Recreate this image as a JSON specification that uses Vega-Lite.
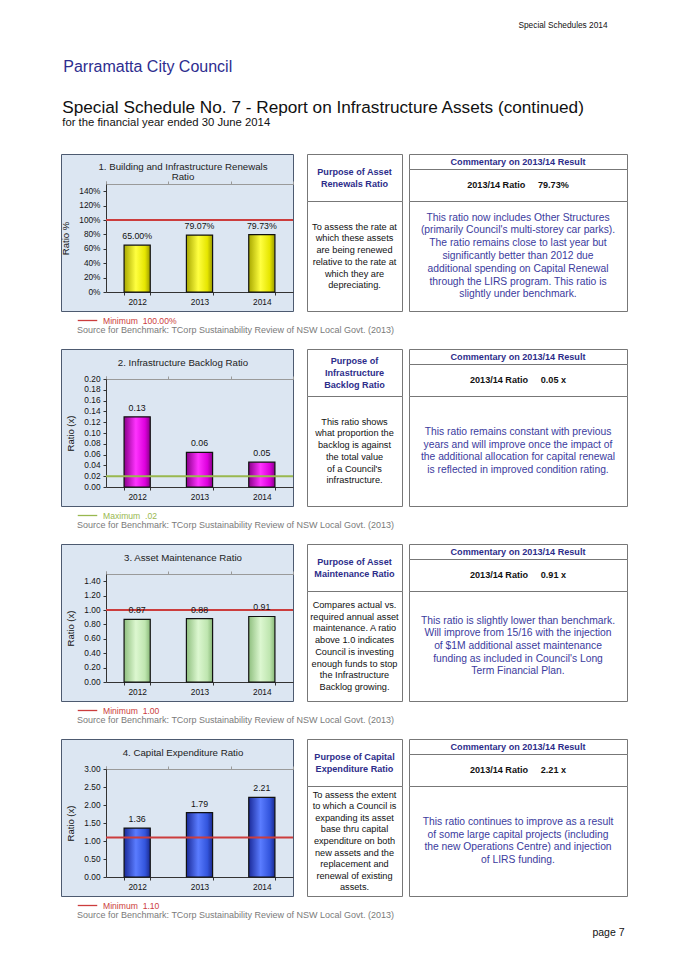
{
  "$schema": "https://vega.github.io/schema/vega-lite/v6.json",
  "background": "white",
  "padding": {"left": 60, "top": 20, "right": 0, "bottom": 0},
  "config": {
    "font": "Liberation Sans",
    "view": {"stroke": null},
    "axis": {"labelFont": "Liberation Sans", "labelFontSize": 8.3, "labelColor": "#111", "domainColor": "#333", "tickColor": "#333", "grid": false, "titleFont": "Liberation Sans", "titleFontWeight": "normal", "titleFontSize": 9.5, "titleColor": "#111", "labelOverlap": false},
    "axisQuantitative": {"labelOverlap": false},
    "axisY": {"offset": -45, "tickSize": 3, "labelPadding": 3, "titlePadding": 8, "labelOverlap": false},
    "axisX": {"offset": -19, "labelAngle": 0, "tickBand": "extent", "tickSize": 3, "labelPadding": 2},
    "legend": {"orient": "none", "legendX": 16, "legendY": 156, "titleOrient": "bottom", "titleAnchor": "start", "titleFontSize": 9, "titleFontWeight": "normal", "titleColor": "#7a7a7a", "titleLimit": 700, "titlePadding": 1, "labelFontSize": 8.6, "symbolType": "stroke", "symbolSize": 380, "symbolStrokeWidth": 1.3, "labelOffset": 5, "padding": 0, "titleFont": "Liberation Sans", "labelFont": "Liberation Sans"},
    "title": {"font": "Liberation Sans", "fontWeight": "normal", "color": "#111"}
  },
  "datasets": {
    "renewals": [{"year": "2012", "value": 0.65}, {"year": "2013", "value": 0.7907}, {"year": "2014", "value": 0.7973}],
    "renewals_bench": [{"value": 1.0, "label": "Minimum\u00a0\u00a0100.00%"}],
    "backlog": [{"year": "2012", "value": 0.13}, {"year": "2013", "value": 0.064}, {"year": "2014", "value": 0.046}],
    "backlog_bench": [{"value": 0.02, "label": "Maximum\u00a0\u00a0.02"}],
    "maintenance": [{"year": "2012", "value": 0.87}, {"year": "2013", "value": 0.88}, {"year": "2014", "value": 0.91}],
    "maintenance_bench": [{"value": 1.0, "label": "Minimum\u00a0\u00a01.00"}],
    "capex": [{"year": "2012", "value": 1.36}, {"year": "2013", "value": 1.79}, {"year": "2014", "value": 2.21}],
    "capex_bench": [{"value": 1.1, "label": "Minimum\u00a0\u00a01.10"}]
  },
  "title": {"text": "Special Schedules 2014", "anchor": "end", "fontSize": 8.3, "dx": -20, "offset": 30},
  "vconcat": [
    {
      "title": {"text": "Parramatta City Council", "anchor": "start", "fontSize": 16, "color": "#2d2d8f", "dx": 3, "offset": 24},
      "vconcat": [
        {
          "title": {"text": "Special Schedule No. 7 - Report on Infrastructure Assets (continued)", "subtitle": "for the financial year ended 30 June 2014", "anchor": "start", "fontSize": 17.2, "color": "#111", "subtitleFont": "Liberation Sans", "subtitleFontSize": 11.3, "subtitleColor": "#111", "subtitlePadding": 1, "dx": 2, "offset": 25},
          "vconcat": [
            {
              "title": {"text": "page 7", "orient": "bottom", "anchor": "end", "fontSize": 10.5, "dx": -3, "offset": 8},
              "spacing": 13,
              "resolve": {"scale": {"color": "independent"}, "legend": {"color": "independent"}},
              "vconcat": [
                {
                  "bounds": "flush", "spacing": 14,
                  "hconcat": [
                    {
                      "width": 232, "height": 157,
                      "view": {"fill": "#dce6f2", "stroke": "#4d5a70", "strokeWidth": 1},
                      "title": {"text": ["1. Building and Infrastructure Renewals", "Ratio"], "anchor": "middle", "offset": -28, "fontSize": 9.7, "lineHeight": 10, "color": "#222", "dx": 6},
                      "data": {"name": "renewals"},
                      "encoding": {"y": {"field": "value", "type": "quantitative", "scale": {"domain": [0, 1.5], "range": [138, 30], "nice": false}, "axis": {"title": "Ratio %", "values": [0, 0.2, 0.4, 0.6, 0.8, 1, 1.2, 1.4], "format": ".0%", "labelOverlap": false}}},
                      "layer": [
                        {"mark": {"type": "bar", "fill": {"gradient": "linear", "x1": 0, "x2": 1, "y1": 0, "y2": 0, "stops": [{"offset": 0, "color": "#a8a800"}, {"offset": 0.45, "color": "#ffff40"}, {"offset": 0.8, "color": "#e6e600"}, {"offset": 1, "color": "#9a9a00"}]}, "stroke": "#111", "strokeWidth": 1.2},
                         "encoding": {
                           "x": {"field": "year", "type": "ordinal", "scale": {"range": [45, 232], "paddingInner": 0.58, "paddingOuter": 0.29}, "axis": {"title": null}}}},
                        {"data": {"name": "renewals_bench"}, "mark": {"type": "rule", "strokeWidth": 2},
                         "encoding": {
                           "x": {"datum": 0, "type": "quantitative", "scale": {"domain": [0, 1], "range": [45, 232]}, "axis": {"orient": "top", "offset": -30, "labels": false, "title": null, "values": [0, 0.3333, 0.6667, 1], "domainColor": "#9a9a9a", "tickColor": "#9a9a9a", "tickSize": 3}},
                           "x2": {"datum": 1},
                           "color": {"field": "label", "type": "nominal", "scale": {"range": ["#cc3d3d"]}, "legend": {"title": "Source for Benchmark: TCorp Sustainability Review of NSW Local Govt. (2013)", "labelColor": "#cc3d3d"}}}},
                        {"mark": {"type": "text", "baseline": "bottom", "dy": -4, "fontSize": 8.8, "color": "#111"},
                         "encoding": {
                           "x": {"field": "year", "type": "ordinal", "scale": {"range": [45, 232], "paddingInner": 0.58, "paddingOuter": 0.29}, "axis": null},
                           "text": {"field": "value", "format": ".2%"}}}
                      ],
                      "resolve": {"scale": {"x": "independent"}}
                    },
                    {
                      "spacing": 5,
                      "hconcat": [
                        {"spacing": 0, "bounds": "flush", "vconcat": [
                          {"width": 95, "height": 47, "view": {"stroke": "#777", "fill": "white"}, "data": {"values": [{"text": "Purpose of Asset\nRenewals Ratio"}]}, "mark": {"type": "text", "lineBreak": "\n", "fontSize": 9.1, "fontWeight": "bold", "color": "#2d2d8a", "baseline": "middle", "lineHeight": 12, "dy": -6}, "encoding": {"text": {"field": "text"}}},
                          {"width": 95, "height": 110, "view": {"stroke": "#777", "fill": "white"}, "data": {"values": [{"text": "To assess the rate at\nwhich these assets\nare being renewed\nrelative to the rate at\nwhich they are\ndepreciating."}]}, "mark": {"type": "text", "lineBreak": "\n", "fontSize": 9.2, "color": "#111", "baseline": "middle", "lineHeight": 11.7, "dy": -29.25}, "encoding": {"text": {"field": "text"}}}
                        ]},
                        {"spacing": 0, "bounds": "flush", "vconcat": [
                          {"width": 218, "height": 15, "view": {"stroke": "#777", "fill": "white"}, "data": {"values": [{"text": "Commentary on 2013/14 Result"}]}, "mark": {"type": "text", "fontSize": 9.1, "fontWeight": "bold", "color": "#2d2d8a", "baseline": "middle"}, "encoding": {"text": {"field": "text"}}},
                          {"width": 218, "height": 32, "view": {"stroke": "#777", "fill": "white"}, "data": {"values": [{"text": "2013/14 Ratio\u00a0\u00a0\u00a0\u00a0\u00a079.73%"}]}, "mark": {"type": "text", "fontSize": 9.1, "fontWeight": "bold", "color": "#111", "baseline": "middle"}, "encoding": {"text": {"field": "text"}}},
                          {"width": 218, "height": 110, "view": {"stroke": "#777", "fill": "white"}, "data": {"values": [{"text": "This ratio now includes Other Structures\n(primarily Council's multi-storey car parks).\nThe ratio remains close to last year but\nsignificantly better than 2012 due\nadditional spending on Capital Renewal\nthrough the LIRS program. This ratio is\nslightly under benchmark."}]}, "mark": {"type": "text", "lineBreak": "\n", "fontSize": 10.3, "color": "#3b3b9e", "baseline": "middle", "lineHeight": 12.8, "dy": -38.4}, "encoding": {"text": {"field": "text"}}}
                        ]}
                      ]
                    }
                  ]
                },
                {
                  "bounds": "flush", "spacing": 14,
                  "hconcat": [
                    {
                      "width": 232, "height": 157,
                      "view": {"fill": "#dce6f2", "stroke": "#4d5a70", "strokeWidth": 1},
                      "title": {"text": "2. Infrastructure Backlog Ratio", "anchor": "middle", "offset": -19, "fontSize": 9.7, "lineHeight": 10, "color": "#222", "dx": 6},
                      "data": {"name": "backlog"},
                      "encoding": {"y": {"field": "value", "type": "quantitative", "scale": {"domain": [0, 0.2], "range": [138, 30], "nice": false}, "axis": {"title": "Ratio (x)", "values": [0, 0.02, 0.04, 0.06, 0.08, 0.1, 0.12, 0.14, 0.16, 0.18, 0.2], "format": ".2f", "labelOverlap": false}}},
                      "layer": [
                        {"mark": {"type": "bar", "fill": {"gradient": "linear", "x1": 0, "x2": 1, "y1": 0, "y2": 0, "stops": [{"offset": 0, "color": "#8a008a"}, {"offset": 0.45, "color": "#ff33ff"}, {"offset": 0.8, "color": "#dd00dd"}, {"offset": 1, "color": "#880088"}]}, "stroke": "#111", "strokeWidth": 1.2},
                         "encoding": {
                           "x": {"field": "year", "type": "ordinal", "scale": {"range": [45, 232], "paddingInner": 0.58, "paddingOuter": 0.29}, "axis": {"title": null}}}},
                        {"data": {"name": "backlog_bench"}, "mark": {"type": "rule", "strokeWidth": 2},
                         "encoding": {
                           "x": {"datum": 0, "type": "quantitative", "scale": {"domain": [0, 1], "range": [45, 232]}, "axis": {"orient": "top", "offset": -30, "labels": false, "title": null, "values": [0, 0.3333, 0.6667, 1], "domainColor": "#9a9a9a", "tickColor": "#9a9a9a", "tickSize": 3}},
                           "x2": {"datum": 1},
                           "color": {"field": "label", "type": "nominal", "scale": {"range": ["#99b84f"]}, "legend": {"title": "Source for Benchmark: TCorp Sustainability Review of NSW Local Govt. (2013)", "labelColor": "#99b84f"}}}},
                        {"mark": {"type": "text", "baseline": "bottom", "dy": -4, "fontSize": 8.8, "color": "#111"},
                         "encoding": {
                           "x": {"field": "year", "type": "ordinal", "scale": {"range": [45, 232], "paddingInner": 0.58, "paddingOuter": 0.29}, "axis": null},
                           "text": {"field": "value", "format": ".2f"}}}
                      ],
                      "resolve": {"scale": {"x": "independent"}}
                    },
                    {
                      "spacing": 5,
                      "hconcat": [
                        {"spacing": 0, "bounds": "flush", "vconcat": [
                          {"width": 95, "height": 47, "view": {"stroke": "#777", "fill": "white"}, "data": {"values": [{"text": "Purpose of\nInfrastructure\nBacklog Ratio"}]}, "mark": {"type": "text", "lineBreak": "\n", "fontSize": 9.1, "fontWeight": "bold", "color": "#2d2d8a", "baseline": "middle", "lineHeight": 12, "dy": -12}, "encoding": {"text": {"field": "text"}}},
                          {"width": 95, "height": 110, "view": {"stroke": "#777", "fill": "white"}, "data": {"values": [{"text": "This ratio shows\nwhat proportion the\nbacklog is against\nthe total value\nof a Council's\ninfrastructure."}]}, "mark": {"type": "text", "lineBreak": "\n", "fontSize": 9.2, "color": "#111", "baseline": "middle", "lineHeight": 11.7, "dy": -29.25}, "encoding": {"text": {"field": "text"}}}
                        ]},
                        {"spacing": 0, "bounds": "flush", "vconcat": [
                          {"width": 218, "height": 15, "view": {"stroke": "#777", "fill": "white"}, "data": {"values": [{"text": "Commentary on 2013/14 Result"}]}, "mark": {"type": "text", "fontSize": 9.1, "fontWeight": "bold", "color": "#2d2d8a", "baseline": "middle"}, "encoding": {"text": {"field": "text"}}},
                          {"width": 218, "height": 32, "view": {"stroke": "#777", "fill": "white"}, "data": {"values": [{"text": "2013/14 Ratio\u00a0\u00a0\u00a0\u00a0\u00a00.05 x"}]}, "mark": {"type": "text", "fontSize": 9.1, "fontWeight": "bold", "color": "#111", "baseline": "middle"}, "encoding": {"text": {"field": "text"}}},
                          {"width": 218, "height": 110, "view": {"stroke": "#777", "fill": "white"}, "data": {"values": [{"text": "This ratio remains constant with previous\nyears and will improve once the impact of\nthe additional allocation for capital renewal\nis reflected in improved condition rating."}]}, "mark": {"type": "text", "lineBreak": "\n", "fontSize": 10.3, "color": "#3b3b9e", "baseline": "middle", "lineHeight": 12.6, "dy": -18.9}, "encoding": {"text": {"field": "text"}}}
                        ]}
                      ]
                    }
                  ]
                },
                {
                  "bounds": "flush", "spacing": 14,
                  "hconcat": [
                    {
                      "width": 232, "height": 157,
                      "view": {"fill": "#dce6f2", "stroke": "#4d5a70", "strokeWidth": 1},
                      "title": {"text": "3. Asset Maintenance Ratio", "anchor": "middle", "offset": -19, "fontSize": 9.7, "lineHeight": 10, "color": "#222", "dx": 6},
                      "data": {"name": "maintenance"},
                      "encoding": {"y": {"field": "value", "type": "quantitative", "scale": {"domain": [0, 1.5], "range": [138, 30], "nice": false}, "axis": {"title": "Ratio (x)", "values": [0, 0.2, 0.4, 0.6, 0.8, 1, 1.2, 1.4], "format": ".2f", "labelOverlap": false}}},
                      "layer": [
                        {"mark": {"type": "bar", "fill": {"gradient": "linear", "x1": 0, "x2": 1, "y1": 0, "y2": 0, "stops": [{"offset": 0, "color": "#8fbf7f"}, {"offset": 0.45, "color": "#dcf7d0"}, {"offset": 0.8, "color": "#bfe6b0"}, {"offset": 1, "color": "#88b878"}]}, "stroke": "#111", "strokeWidth": 1.2},
                         "encoding": {
                           "x": {"field": "year", "type": "ordinal", "scale": {"range": [45, 232], "paddingInner": 0.58, "paddingOuter": 0.29}, "axis": {"title": null}}}},
                        {"data": {"name": "maintenance_bench"}, "mark": {"type": "rule", "strokeWidth": 2},
                         "encoding": {
                           "x": {"datum": 0, "type": "quantitative", "scale": {"domain": [0, 1], "range": [45, 232]}, "axis": {"orient": "top", "offset": -30, "labels": false, "title": null, "values": [0, 0.3333, 0.6667, 1], "domainColor": "#9a9a9a", "tickColor": "#9a9a9a", "tickSize": 3}},
                           "x2": {"datum": 1},
                           "color": {"field": "label", "type": "nominal", "scale": {"range": ["#cc3d3d"]}, "legend": {"title": "Source for Benchmark: TCorp Sustainability Review of NSW Local Govt. (2013)", "labelColor": "#cc3d3d"}}}},
                        {"mark": {"type": "text", "baseline": "bottom", "dy": -4, "fontSize": 8.8, "color": "#111"},
                         "encoding": {
                           "x": {"field": "year", "type": "ordinal", "scale": {"range": [45, 232], "paddingInner": 0.58, "paddingOuter": 0.29}, "axis": null},
                           "text": {"field": "value", "format": ".2f"}}}
                      ],
                      "resolve": {"scale": {"x": "independent"}}
                    },
                    {
                      "spacing": 5,
                      "hconcat": [
                        {"spacing": 0, "bounds": "flush", "vconcat": [
                          {"width": 95, "height": 47, "view": {"stroke": "#777", "fill": "white"}, "data": {"values": [{"text": "Purpose of Asset\nMaintenance Ratio"}]}, "mark": {"type": "text", "lineBreak": "\n", "fontSize": 9.1, "fontWeight": "bold", "color": "#2d2d8a", "baseline": "middle", "lineHeight": 12, "dy": -6}, "encoding": {"text": {"field": "text"}}},
                          {"width": 95, "height": 110, "view": {"stroke": "#777", "fill": "white"}, "data": {"values": [{"text": "Compares actual vs.\nrequired annual asset\nmaintenance. A ratio\nabove 1.0 indicates\nCouncil is investing\nenough funds to stop\nthe Infrastructure\nBacklog growing."}]}, "mark": {"type": "text", "lineBreak": "\n", "fontSize": 9.2, "color": "#111", "baseline": "middle", "lineHeight": 11.7, "dy": -40.95}, "encoding": {"text": {"field": "text"}}}
                        ]},
                        {"spacing": 0, "bounds": "flush", "vconcat": [
                          {"width": 218, "height": 15, "view": {"stroke": "#777", "fill": "white"}, "data": {"values": [{"text": "Commentary on 2013/14 Result"}]}, "mark": {"type": "text", "fontSize": 9.1, "fontWeight": "bold", "color": "#2d2d8a", "baseline": "middle"}, "encoding": {"text": {"field": "text"}}},
                          {"width": 218, "height": 32, "view": {"stroke": "#777", "fill": "white"}, "data": {"values": [{"text": "2013/14 Ratio\u00a0\u00a0\u00a0\u00a0\u00a00.91 x"}]}, "mark": {"type": "text", "fontSize": 9.1, "fontWeight": "bold", "color": "#111", "baseline": "middle"}, "encoding": {"text": {"field": "text"}}},
                          {"width": 218, "height": 110, "view": {"stroke": "#777", "fill": "white"}, "data": {"values": [{"text": "This ratio is slightly lower than benchmark.\nWill improve from 15/16 with the injection\nof $1M additional asset maintenance\nfunding as included in Council's Long\nTerm Financial Plan."}]}, "mark": {"type": "text", "lineBreak": "\n", "fontSize": 10.3, "color": "#3b3b9e", "baseline": "middle", "lineHeight": 12.6, "dy": -25.2}, "encoding": {"text": {"field": "text"}}}
                        ]}
                      ]
                    }
                  ]
                },
                {
                  "bounds": "flush", "spacing": 14,
                  "hconcat": [
                    {
                      "width": 232, "height": 157,
                      "view": {"fill": "#dce6f2", "stroke": "#4d5a70", "strokeWidth": 1},
                      "title": {"text": "4. Capital Expenditure Ratio", "anchor": "middle", "offset": -19, "fontSize": 9.7, "lineHeight": 10, "color": "#222", "dx": 6},
                      "data": {"name": "capex"},
                      "encoding": {"y": {"field": "value", "type": "quantitative", "scale": {"domain": [0, 3], "range": [138, 30], "nice": false}, "axis": {"title": "Ratio (x)", "values": [0, 0.5, 1, 1.5, 2, 2.5, 3], "format": ".2f", "labelOverlap": false}}},
                      "layer": [
                        {"mark": {"type": "bar", "fill": {"gradient": "linear", "x1": 0, "x2": 1, "y1": 0, "y2": 0, "stops": [{"offset": 0, "color": "#1a2a99"}, {"offset": 0.45, "color": "#5a7cff"}, {"offset": 0.8, "color": "#3355dd"}, {"offset": 1, "color": "#1a2a90"}]}, "stroke": "#111", "strokeWidth": 1.2},
                         "encoding": {
                           "x": {"field": "year", "type": "ordinal", "scale": {"range": [45, 232], "paddingInner": 0.58, "paddingOuter": 0.29}, "axis": {"title": null}}}},
                        {"data": {"name": "capex_bench"}, "mark": {"type": "rule", "strokeWidth": 2},
                         "encoding": {
                           "x": {"datum": 0, "type": "quantitative", "scale": {"domain": [0, 1], "range": [45, 232]}, "axis": {"orient": "top", "offset": -30, "labels": false, "title": null, "values": [0, 0.3333, 0.6667, 1], "domainColor": "#9a9a9a", "tickColor": "#9a9a9a", "tickSize": 3}},
                           "x2": {"datum": 1},
                           "color": {"field": "label", "type": "nominal", "scale": {"range": ["#cc3d3d"]}, "legend": {"title": "Source for Benchmark: TCorp Sustainability Review of NSW Local Govt. (2013)", "labelColor": "#cc3d3d"}}}},
                        {"mark": {"type": "text", "baseline": "bottom", "dy": -4, "fontSize": 8.8, "color": "#111"},
                         "encoding": {
                           "x": {"field": "year", "type": "ordinal", "scale": {"range": [45, 232], "paddingInner": 0.58, "paddingOuter": 0.29}, "axis": null},
                           "text": {"field": "value", "format": ".2f"}}}
                      ],
                      "resolve": {"scale": {"x": "independent"}}
                    },
                    {
                      "spacing": 5,
                      "hconcat": [
                        {"spacing": 0, "bounds": "flush", "vconcat": [
                          {"width": 95, "height": 47, "view": {"stroke": "#777", "fill": "white"}, "data": {"values": [{"text": "Purpose of Capital\nExpenditure Ratio"}]}, "mark": {"type": "text", "lineBreak": "\n", "fontSize": 9.1, "fontWeight": "bold", "color": "#2d2d8a", "baseline": "middle", "lineHeight": 12, "dy": -6}, "encoding": {"text": {"field": "text"}}},
                          {"width": 95, "height": 110, "view": {"stroke": "#777", "fill": "white"}, "data": {"values": [{"text": "To assess the extent\nto which a Council is\nexpanding its asset\nbase thru capital\nexpenditure on both\nnew assets and the\nreplacement and\nrenewal of existing\nassets."}]}, "mark": {"type": "text", "lineBreak": "\n", "fontSize": 9.2, "color": "#111", "baseline": "middle", "lineHeight": 11.6, "dy": -46.4}, "encoding": {"text": {"field": "text"}}}
                        ]},
                        {"spacing": 0, "bounds": "flush", "vconcat": [
                          {"width": 218, "height": 15, "view": {"stroke": "#777", "fill": "white"}, "data": {"values": [{"text": "Commentary on 2013/14 Result"}]}, "mark": {"type": "text", "fontSize": 9.1, "fontWeight": "bold", "color": "#2d2d8a", "baseline": "middle"}, "encoding": {"text": {"field": "text"}}},
                          {"width": 218, "height": 32, "view": {"stroke": "#777", "fill": "white"}, "data": {"values": [{"text": "2013/14 Ratio\u00a0\u00a0\u00a0\u00a0\u00a02.21 x"}]}, "mark": {"type": "text", "fontSize": 9.1, "fontWeight": "bold", "color": "#111", "baseline": "middle"}, "encoding": {"text": {"field": "text"}}},
                          {"width": 218, "height": 110, "view": {"stroke": "#777", "fill": "white"}, "data": {"values": [{"text": "This ratio continues to improve as a result\nof some large capital projects (including\nthe new Operations Centre) and injection\nof LIRS funding."}]}, "mark": {"type": "text", "lineBreak": "\n", "fontSize": 10.3, "color": "#3b3b9e", "baseline": "middle", "lineHeight": 12.6, "dy": -18.9}, "encoding": {"text": {"field": "text"}}}
                        ]}
                      ]
                    }
                  ]
                }
              ]
            }
          ]
        }
      ]
    }
  ]
}
